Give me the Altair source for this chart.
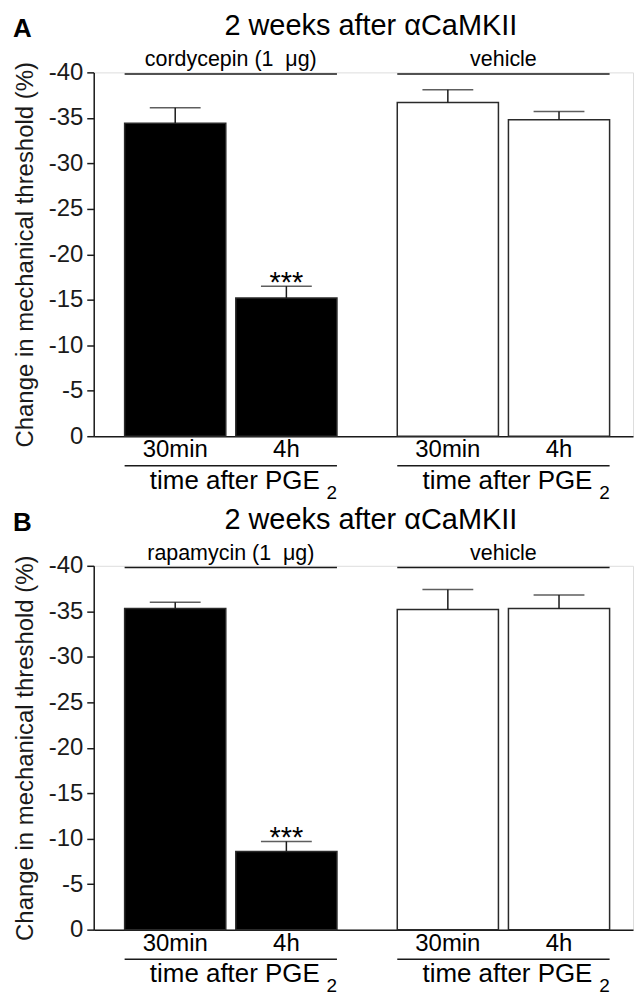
import altair as alt
import pandas as pd

# ---------------- data ----------------
times = ["30min", "4h"]
panel_letters = ["A", "B"]
panel_titles = ["2 weeks after \u03b1CaMKII", "2 weeks after \u03b1CaMKII"]
a_groups = ["cordycepin (1\u00a0 \u03bcg)", "vehicle"]
b_groups = ["rapamycin (1\u00a0 \u03bcg)", "vehicle"]
a_means = [-34.4, -15.2, -36.7, -34.8]
a_sems = [1.7, 1.3, 1.4, 0.9]
a_sig = ["", "***", "", ""]
b_means = [-35.3, -8.6, -35.2, -35.3]
b_sems = [0.7, 1.1, 2.2, 1.5]
b_sig = ["", "***", "", ""]
y_ticks = [0, -5, -10, -15, -20, -25, -30, -35, -40]
x_caption = "time after PGE"
x_caption_sub = "2"
y_title = "Change in mechanical threshold (%)"

W, H = 541, 365
FONT = "Liberation Sans, Arial, Helvetica, sans-serif"
INK = "#1a1a1a"


def panel(letter, title, groups, means, sems, sig):
    rows = []
    for gi, g in enumerate(groups):
        for ti, t in enumerate(times):
            k = gi * 2 + ti
            rows.append(dict(group=g, time=t, mean=means[k],
                             cap=means[k] - sems[k], sig=sig[k],
                             kind="treat" if gi == 0 else "veh"))
    df = pd.DataFrame(rows)
    gdf = pd.DataFrame({"group": groups, "cap": [x_caption] * len(groups),
                        "sub": [x_caption_sub] * len(groups)})
    tdf = pd.DataFrame({"title": [title], "letter": [letter]})

    xscale = alt.Scale(domain=groups, paddingInner=0.2212, paddingOuter=0.0996, align=0.569)
    xo = alt.Scale(domain=times, paddingInner=0.09, paddingOuter=0)
    yscale = alt.Scale(domain=[0, -40], nice=False)

    X = alt.X("group:N", scale=xscale, sort=groups,
              axis=alt.Axis(labels=False, ticks=False, title=None,
                            domainColor=INK, domainWidth=1.5))
    XO = alt.XOffset("time:N", scale=xo, sort=times)
    yaxis = alt.Axis(values=y_ticks,
                     labelExpr="datum.value == 0 ? '0' : '-' + abs(datum.value)",
                     title=y_title, titleFontSize=24, titleFontWeight="normal",
                     titleColor=INK, labelColor=INK, labelFontSize=24,
                     tickSize=7, tickWidth=1.5, tickColor=INK,
                     domainWidth=1.5, domainColor=INK, grid=False,
                     titlePadding=11, labelPadding=4)

    base = alt.Chart(df)
    bars = base.mark_bar(stroke="#2a2a2a", strokeWidth=1.5).encode(
        x=X, xOffset=XO,
        y=alt.Y("mean:Q", scale=yscale, axis=yaxis),
        color=alt.Color("kind:N", scale=alt.Scale(domain=["treat", "veh"],
                                                  range=["#000000", "#ffffff"]),
                        legend=None),
    )
    stem = base.mark_rule(color=INK, strokeWidth=1.5).encode(
        x=X, xOffset=XO, y=alt.Y("mean:Q", scale=yscale, axis=yaxis), y2="cap:Q")
    caps = base.mark_tick(color=INK, thickness=1.5, size=51, orient="horizontal").encode(
        x=X, xOffset=XO, y=alt.Y("cap:Q", scale=yscale, axis=yaxis))
    stars = base.mark_text(font=FONT, fontSize=29, color="#000", baseline="alphabetic",
                           dy=6).encode(
        x=X, xOffset=XO, y=alt.Y("cap:Q", scale=yscale, axis=yaxis), text="sig:N")
    tlabels = base.mark_text(font=FONT, fontSize=24, color="#000",
                             baseline="alphabetic").encode(
        x=X, xOffset=XO, y=alt.value(H + 21), text="time:N")

    g = alt.Chart(gdf)
    top_line = g.mark_bar(color=INK).encode(x=X, y=alt.value(1), y2=alt.value(2.5))
    top_text = g.mark_text(font=FONT, fontSize=21.5, color="#000",
                           baseline="alphabetic").encode(
        x=X, y=alt.value(-6), text="group:N")
    bot_line = g.mark_bar(color=INK).encode(x=X, y=alt.value(H + 29), y2=alt.value(H + 30.5))
    bot_text = g.mark_text(font=FONT, fontSize=26, color="#000", baseline="alphabetic",
                           dx=4).encode(x=X, y=alt.value(H + 53), text="cap:N")
    bot_sub = g.mark_text(font=FONT, fontSize=19, color="#000", baseline="alphabetic",
                          align="left", dx=96).encode(x=X, y=alt.value(H + 63), text="sub:N")

    t = alt.Chart(tdf)
    ttl = t.mark_text(font=FONT, fontSize=29, color="#000", baseline="alphabetic").encode(
        x=alt.value(278), y=alt.value(-37), text="title:N")
    let = t.mark_text(font=FONT, fontSize=26, fontWeight="bold", color="#000",
                      baseline="alphabetic", align="left").encode(
        x=alt.value(-81), y=alt.value(-35), text="letter:N")

    return alt.layer(bars, stem, caps, stars, tlabels, top_line, top_text,
                     bot_line, bot_text, bot_sub, ttl, let).properties(width=W, height=H)


pa = panel(panel_letters[0], panel_titles[0], a_groups, a_means, a_sems, a_sig)
pb = panel(panel_letters[1], panel_titles[1], b_groups, b_means, b_sems, b_sig)

chart = alt.vconcat(pa, pb, spacing=130, bounds="flush").properties(
    padding={"left": 4, "top": 2, "right": 0, "bottom": 0}
).configure_view(stroke=None).configure(font=FONT)

chart.save("out.html", embed_options={"renderer": "svg", "actions": False})
